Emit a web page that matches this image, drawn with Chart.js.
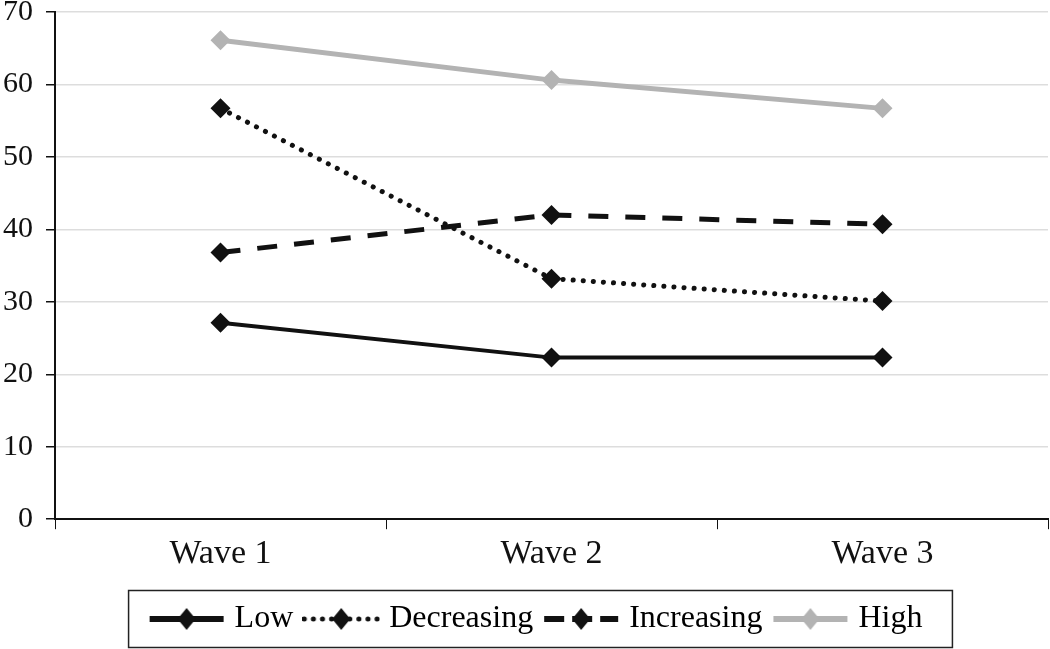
<!DOCTYPE html>
<html>
<head>
<meta charset="utf-8">
<script src="https://cdn.jsdelivr.net/npm/chart.js@4/dist/chart.umd.min.js"></script>
<style>
  html, body { margin: 0; padding: 0; background: #fff; overflow: hidden; }
  canvas { display: block; }
</style>
</head>
<body>
<canvas id="waveChart" width="1050" height="649"></canvas>
<script>
// Chart data
const waves = ['Wave 1', 'Wave 2', 'Wave 3'];
const lowValues = [27.1, 22.3, 22.3];
const decreasingValues = [56.7, 33.2, 30.1];
const increasingValues = [36.8, 42.0, 40.7];
const highValues = [66.1, 60.6, 56.7];
const yTicks = [0, 10, 20, 30, 40, 50, 60, 70];

const serif = '"Liberation Serif", "Times New Roman", serif';

// Legend marker: a short line with a diamond in the middle
function makeMarker(color, dash, width, cap) {
    const c = document.createElement('canvas');
    c.width = 78;
    c.height = 24;
    const ctx = c.getContext('2d');
    ctx.strokeStyle = color;
    ctx.lineWidth = width;
    ctx.lineCap = cap;
    ctx.setLineDash(dash);
    ctx.beginPath();
    ctx.moveTo(2, 12);
    ctx.lineTo(76, 12);
    ctx.stroke();
    ctx.setLineDash([]);
    ctx.fillStyle = color;
    ctx.beginPath();
    ctx.moveTo(39, 1);
    ctx.lineTo(48, 12);
    ctx.lineTo(39, 23);
    ctx.lineTo(30, 12);
    ctx.closePath();
    ctx.fill();
    return c;
}

const series = [
    { label: 'Low', data: lowValues, color: '#111111', dash: [], width: 4, cap: 'butt',
      marker: makeMarker('#111111', [], 6, 'butt') },
    { label: 'Decreasing', data: decreasingValues, color: '#111111', dash: [0.1, 10], width: 5, cap: 'round',
      marker: makeMarker('#111111', [0.1, 9], 5, 'round') },
    { label: 'Increasing', data: increasingValues, color: '#111111', dash: [20, 17], width: 5, cap: 'butt',
      marker: makeMarker('#111111', [20, 8], 6, 'butt') },
    { label: 'High', data: highValues, color: '#b3b3b3', dash: [], width: 5, cap: 'butt',
      marker: makeMarker('#b3b3b3', [], 6, 'butt') }
];

// Legend sits a little right of centre in the original, with a frame round it
const LEGEND_SHIFT = 13;
const legendBox = {
    id: 'legendBox',
    afterLayout(chart) {
        if (!chart.legend) return;
        chart.legend.left += LEGEND_SHIFT;
        chart.legend.right += LEGEND_SHIFT;
    },
    afterDraw(chart) {
        const boxes = chart.legend && chart.legend.legendHitBoxes;
        if (!boxes || !boxes.length) return;
        const left = Math.min(...boxes.map(b => b.left)) - 26;
        const right = Math.max(...boxes.map(b => b.left + b.width)) + 30;
        const midY = boxes[0].top + boxes[0].height / 2;
        const ctx = chart.ctx;
        ctx.save();
        ctx.strokeStyle = '#222';
        ctx.lineWidth = 1.5;
        ctx.strokeRect(left, midY - 28.5, right - left, 57);
        ctx.restore();
    }
};

new Chart(document.getElementById('waveChart'), {
    type: 'line',
    data: {
        labels: waves,
        datasets: series.map(s => ({
            label: s.label,
            data: s.data,
            borderColor: s.color,
            backgroundColor: s.color,
            borderWidth: s.width,
            borderDash: s.dash,
            borderCapStyle: s.cap,
            pointStyle: 'rectRot',
            pointRadius: 10,
            pointBackgroundColor: s.color,
            pointBorderColor: s.color,
            pointBorderWidth: 0,
            tension: 0
        }))
    },
    options: {
        responsive: false,
        animation: false,
        layout: { autoPadding: false, padding: { left: 3, right: 2, top: 12, bottom: 4 } },
        plugins: {
            tooltip: { enabled: false },
            legend: {
                position: 'bottom',
                labels: {
                    usePointStyle: true,
                    pointStyleWidth: 64,
                    padding: 16,
                    color: '#111',
                    font: { family: serif, size: 32 },
                    generateLabels(chart) {
                        return series.map((s, i) => ({
                            text: s.label,
                            pointStyle: s.marker,
                            fillStyle: s.color,
                            strokeStyle: s.color,
                            lineWidth: 0,
                            datasetIndex: i,
                            hidden: false
                        }));
                    }
                }
            }
        },
        scales: {
            x: {
                offset: true,
                afterFit(axis) {
                    axis.height += 9;
                    axis.paddingLeft = 0;
                    axis.paddingRight = 0;
                },
                grid: {
                    drawOnChartArea: false,
                    drawTicks: true,
                    tickLength: 10,
                    tickColor: '#111',
                    offset: true
                },
                border: { display: true, color: '#111', width: 2 },
                ticks: {
                    color: '#111',
                    padding: 4,
                    font: { family: serif, size: 34 }
                }
            },
            y: {
                min: 0,
                max: 70,
                afterBuildTicks(axis) {
                    axis.ticks = yTicks.map(v => ({ value: v }));
                },
                afterFit(axis) {
                    axis.width = 52;
                    axis.paddingTop = 0;
                    axis.paddingBottom = 0;
                },
                grid: {
                    color: '#dddddd',
                    lineWidth: 1.5,
                    tickLength: 9,
                    tickColor: '#111'
                },
                border: { display: true, color: '#111', width: 2 },
                ticks: {
                    color: '#111',
                    padding: 13,
                    font: { family: serif, size: 30 }
                }
            }
        }
    },
    plugins: [legendBox]
});
</script>
</body>
</html>
